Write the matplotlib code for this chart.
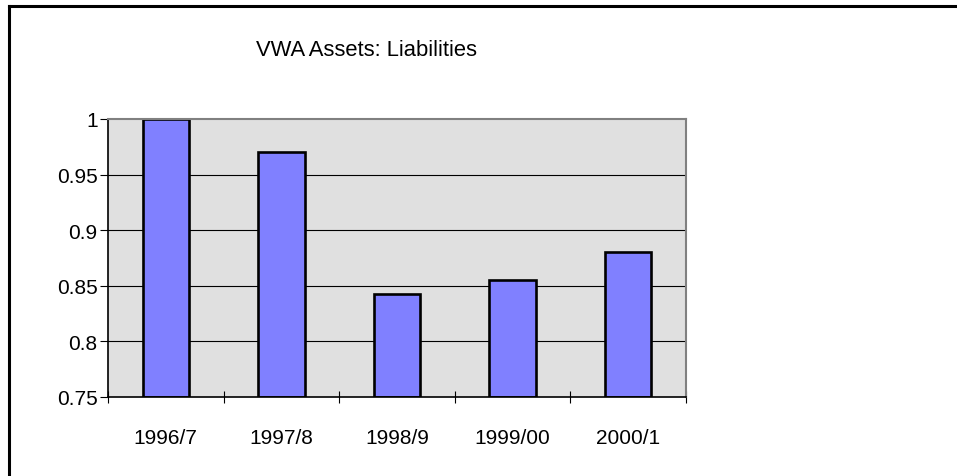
import matplotlib
matplotlib.use("Agg")
import matplotlib.pyplot as plt
from matplotlib.lines import Line2D
import numpy as np

plt.rcParams['font.family'] = ['Liberation Sans', 'DejaVu Sans']

# Ratio of assets to liabilities by financial year
years = ["1996/7", "1997/8", "1998/9", "1999/00", "2000/1"]
ratio = [1.0, 0.97, 0.843, 0.855, 0.88]
y_ticks = [0.75, 0.8, 0.85, 0.9, 0.95, 1.0]
y_labels = ["0.75", "0.8", "0.85", "0.9", "0.95", "1"]
title = "VWA Assets: Liabilities"

W, H = 957, 477
fig = plt.figure(figsize=(W / 100, H / 100), dpi=100)
fig.patch.set_facecolor("white")

# outer frame: left and top edges
fig.add_artist(Line2D([8.5 / W, 8.5 / W], [0, 1 - 7 / H], color="black", lw=2.2,
                      transform=fig.transFigure, solid_capstyle="projecting"))
fig.add_artist(Line2D([8.5 / W, 1], [1 - 7 / H, 1 - 7 / H], color="black", lw=2.2,
                      transform=fig.transFigure, solid_capstyle="projecting"))

left, right, top, bottom = 108, 686, 120, 398
ax = fig.add_axes([left / W, 1 - bottom / H, (right - left) / W, (bottom - top) / H])
ax.set_facecolor("#E0E0E0")

x = np.arange(len(years))
ax.bar(x, [v - 0.75 for v in ratio], bottom=0.75, width=0.4, color="#8080FF",
       edgecolor="black", linewidth=1.9, zorder=3)

ax.set_xlim(-0.5, len(years) - 0.5)
ax.set_ylim(0.75, 1.0)

ax.set_yticks(y_ticks)
ax.set_yticklabels(y_labels, fontsize=15)
ax.tick_params(axis="y", direction="out", length=6, width=0.8, pad=1.5, color="black")

ax.set_xticks(x)
ax.set_xticklabels(years, fontsize=15)
ax.tick_params(axis="x", which="major", length=0, pad=22)
ax.set_xticks(np.arange(-0.5, len(years), 1.0), minor=True)
ax.tick_params(axis="x", which="minor", direction="inout", length=9, width=0.8, color="black")

for v in y_ticks[1:-1]:
    ax.axhline(v, color="black", lw=0.8, zorder=1)

ax.spines["left"].set_color("black")
ax.spines["left"].set_linewidth(1.2)
ax.spines["bottom"].set_color("black")
ax.spines["bottom"].set_linewidth(1.2)
ax.spines["top"].set_color("#808080")
ax.spines["top"].set_linewidth(1.5)
ax.spines["right"].set_color("#808080")
ax.spines["right"].set_linewidth(1.5)
for s in ax.spines.values():
    s.set_zorder(4)

fig.text(366 / W, 1 - 50 / H, title, ha="center", va="center", fontsize=15.8)

fig.savefig("out.png", dpi=100)
